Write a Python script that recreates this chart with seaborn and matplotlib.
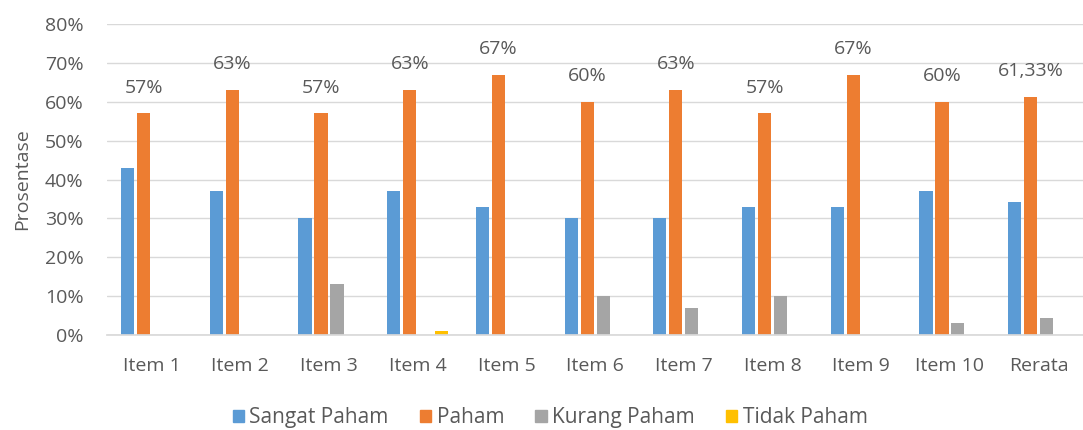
import matplotlib.pyplot as plt
import seaborn as sns
import pandas as pd
from matplotlib.ticker import PercentFormatter

sns.set_theme(style="white")
plt.rcParams["font.family"] = ["Open Sans", "DejaVu Sans"]

items = ["Item 1", "Item 2", "Item 3", "Item 4", "Item 5", "Item 6",
         "Item 7", "Item 8", "Item 9", "Item 10", "Rerata"]
sangat_paham = [43, 37, 30, 37, 33, 30, 30, 33, 33, 37, 34.33]
paham = [57, 63, 57, 63, 67, 60, 63, 57, 67, 60, 61.33]
kurang_paham = [0, 0, 13, 0, 0, 10, 7, 10, 0, 3, 4.33]
tidak_paham = [0, 0, 0, 1, 0, 0, 0, 0, 0, 0, 0]
paham_labels = ["57%", "63%", "57%", "63%", "67%", "60%", "63%", "57%",
                "67%", "60%", "61,33%"]

series = ["Sangat Paham", "Paham", "Kurang Paham", "Tidak Paham"]
colors = ["#5b9bd5", "#ed7d31", "#a5a5a5", "#ffc000"]

df = pd.DataFrame({
    "Item": items * 4,
    "Kategori": [s for s in series for _ in items],
    "Nilai": sangat_paham + paham + kurang_paham + tidak_paham,
})

text_col = "#595959"
fs = 14
fig, ax = plt.subplots(figsize=(10.83, 4.3), dpi=100)
sns.barplot(data=df, x="Item", y="Nilai", hue="Kategori", hue_order=series,
            palette=colors, width=0.72, gap=0.18, ax=ax, saturation=1,
            linewidth=0, legend=False)

# angka di atas batang Paham
ax.bar_label(ax.containers[1], labels=paham_labels, padding=12, fontsize=fs,
             color=text_col)

ax.set_ylim(0, 80)
ax.set_yticks(range(0, 81, 10))
ax.yaxis.set_major_formatter(PercentFormatter(decimals=0))
ax.grid(axis="y", color="#d9d9d9", linewidth=1)
ax.set_axisbelow(True)
for s in ["top", "right", "left"]:
    ax.spines[s].set_visible(False)
ax.spines["bottom"].set_color("#d9d9d9")
ax.tick_params(axis="both", labelsize=fs, colors=text_col, length=0)
ax.tick_params(axis="x", pad=16)
ax.tick_params(axis="y", pad=17)
ax.set_xlabel("")
ax.set_ylabel("Prosentase", fontsize=fs, color=text_col, labelpad=10)
ax.set_xlim(-0.5, len(items) - 0.5)

handles = [plt.Rectangle((0, 0), 1, 1, color=c) for c in colors]
fig.legend(handles, series, loc="center", bbox_to_anchor=(0.508, 0.028),
           ncol=4, frameon=False, fontsize=15, handlelength=0.55,
           handleheight=0.55, columnspacing=1.5, handletextpad=0.25,
           labelcolor=text_col)

fig.subplots_adjust(left=0.099, right=1.0, top=0.944, bottom=0.221)
fig.savefig("out.png")
